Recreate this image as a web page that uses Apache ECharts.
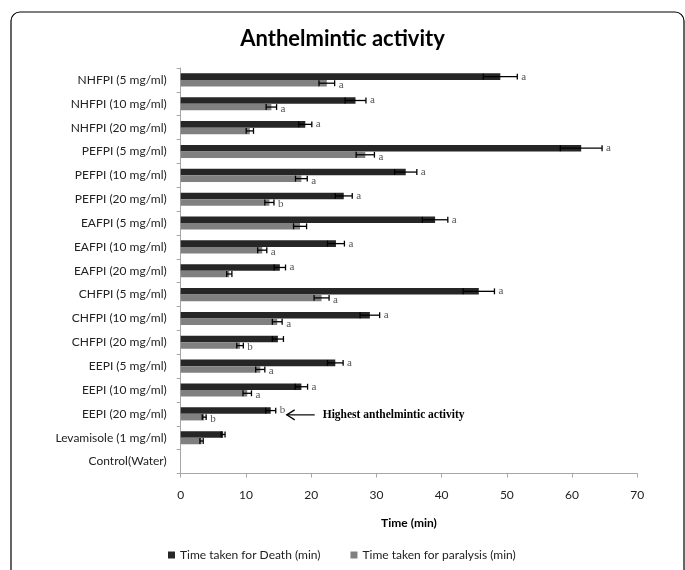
<!DOCTYPE html>
<html>
<head>
<meta charset="utf-8">
<script src="https://cdn.jsdelivr.net/npm/echarts@6/dist/echarts.min.js"></script>
<style>html,body{margin:0;padding:0;background:#fff;}#c{width:685px;height:570px;}</style>
</head>
<body>
<div id="c"></div>
<script>
const categories = ['NHFPI (5 mg/ml)','NHFPI (10 mg/ml)','NHFPI (20 mg/ml)','PEFPI (5 mg/ml)','PEFPI (10 mg/ml)','PEFPI (20 mg/ml)','EAFPI (5 mg/ml)','EAFPI (10 mg/ml)','EAFPI (20 mg/ml)','CHFPI (5 mg/ml)','CHFPI (10 mg/ml)','CHFPI (20 mg/ml)','EEPI (5 mg/ml)','EEPI (10 mg/ml)','EEPI (20 mg/ml)','Levamisole (1 mg/ml)','Control(Water)'];
const deathTime = [49.0, 26.8, 19.1, 61.4, 34.5, 25.0, 39.0, 23.8, 15.2, 45.7, 29.0, 14.9, 23.7, 18.5, 13.8, 6.5, 0];
const deathErr = [2.6, 1.6, 1.0, 3.2, 1.7, 1.3, 1.95, 1.3, 0.87, 2.4, 1.5, 0.85, 1.2, 0.95, 0.77, 0.3, 0];
const deathLetters = ['a','a','a','a','a','a','a','a','a','a','a','','a','a','b','',''];
const paralysisTime = [22.4, 13.9, 10.6, 28.3, 18.5, 13.6, 18.3, 12.5, 7.45, 21.6, 14.8, 9.1, 12.2, 10.2, 3.6, 3.2, 0];
const paralysisErr = [1.2, 0.8, 0.56, 1.4, 0.9, 0.7, 1.0, 0.7, 0.4, 1.15, 0.75, 0.5, 0.7, 0.65, 0.3, 0.25, 0];
const paralysisLetters = ['a','a','','a','a','b','','a','','a','a','b','a','a','b','',''];
const xTicks = [0, 10, 20, 30, 40, 50, 60, 70];
const annotationCategory = 'EEPI (20 mg/ml)';
const annotationValue = 16.25;
const annotationText = 'Highest anthelmintic activity';

const chart = echarts.init(document.getElementById('c'), null, {renderer: 'canvas'});
const FONT = 'Lato';

function errSeries(vals, errs, letters, sign, name) {
  return {
    type: 'custom',
    name: name + ' err',
    z: 5,
    silent: true,
    data: vals.map((v, i) => [v, i, errs[i], letters[i]]),
    renderItem: function (params, api) {
      const v = api.value(0), c = api.value(1), e = api.value(2);
      const letter = letters[params.dataIndex];
      const p = api.coord([v, c]);
      const band = api.size([0, 1])[1];
      const w = band * 0.55 / 2;
      const yc = p[1] + sign * w / 2;
      const children = [];
      if (e > 0) {
        const x1 = api.coord([v - e, c])[0];
        const x2 = api.coord([v + e, c])[0];
        const ch = w * 0.45;
        children.push({type: 'line', shape: {x1: x1, y1: yc, x2: x2, y2: yc}, style: {stroke: '#000', lineWidth: 1.3}});
        children.push({type: 'line', shape: {x1: x1, y1: yc - ch, x2: x1, y2: yc + ch}, style: {stroke: '#000', lineWidth: 1.3}});
        children.push({type: 'line', shape: {x1: x2, y1: yc - ch, x2: x2, y2: yc + ch}, style: {stroke: '#000', lineWidth: 1.3}});
        if (letter) {
          children.push({type: 'text', style: {text: letter, x: x2 + 4, y: yc + (sign > 0 ? 2 : 0), verticalAlign: 'middle', align: 'left', font: '11px "Liberation Serif"', fill: '#555'}});
        }
      }
      return {type: 'group', children: children};
    }
  };
}

const option = {
  backgroundColor: '#fff',
  animation: false,
  title: {
    text: 'Anthelmintic activity',
    left: 'center',
    top: 23,
    textStyle: {fontFamily: FONT, fontWeight: 'bold', fontSize: 22, color: '#000'}
  },
  legend: {
    bottom: 4,
    left: 163,
    itemWidth: 7,
    itemHeight: 7,
    itemGap: 30,
    icon: 'rect',
    textStyle: {fontFamily: FONT, fontSize: 12, color: '#222'},
    data: ['Time taken for Death (min)', 'Time taken for paralysis (min)']
  },
  grid: {left: 180.7, right: 47.7, top: 68, bottom: 96.5, containLabel: false},
  xAxis: {
    type: 'value', min: xTicks[0], max: xTicks[xTicks.length - 1], interval: 10,
    name: 'Time (min)', nameLocation: 'middle', nameGap: 44,
    nameTextStyle: {fontFamily: FONT, fontWeight: 'bold', fontSize: 12, color: '#000'},
    axisLine: {show: true, lineStyle: {color: '#a6a6a6', width: 1}},
    axisTick: {show: true, length: 4, lineStyle: {color: '#a6a6a6'}},
    axisLabel: {fontFamily: FONT, fontSize: 12, color: '#222', margin: 16},
    splitLine: {show: false}
  },
  yAxis: {
    type: 'category', inverse: true, data: categories,
    axisLine: {show: true, lineStyle: {color: '#a6a6a6', width: 1}},
    axisTick: {show: true, length: 4, lineStyle: {color: '#a6a6a6'}},
    axisLabel: {fontFamily: FONT, fontSize: 12, color: '#222', margin: 14}
  },
  graphic: [{
    type: 'rect', silent: true,
    shape: {x: 11, y: 12, width: 673, height: 620, r: 9},
    style: {fill: 'none', stroke: '#000', lineWidth: 1.2}
  }],
  series: [
    {
      name: 'Time taken for Death (min)', type: 'bar', data: deathTime,
      barGap: '0%', barCategoryGap: '45%',
      itemStyle: {color: '#262626'}
    },
    {
      name: 'Time taken for paralysis (min)', type: 'bar', data: paralysisTime,
      barGap: '0%', barCategoryGap: '45%',
      itemStyle: {color: '#808080'}
    },
    errSeries(deathTime, deathErr, deathLetters, -1, 'death'),
    errSeries(paralysisTime, paralysisErr, paralysisLetters, 1, 'paralysis'),
    {
      type: 'custom', name: 'annotation', silent: true, z: 6,
      data: [[annotationValue, categories.indexOf(annotationCategory)]],
      renderItem: function (params, api) {
        const p = api.coord([api.value(0), api.value(1)]);
        const y = p[1] + 1;
        const x0 = p[0];
        return {type: 'group', children: [
          {type: 'line', shape: {x1: x0, y1: y, x2: x0 + 28, y2: y}, style: {stroke: '#000', lineWidth: 1.2}},
          {type: 'polyline', shape: {points: [[x0 + 8, y - 5], [x0, y], [x0 + 8, y + 5]]}, style: {stroke: '#000', lineWidth: 1.2, fill: 'none'}},
          {type: 'text', style: {text: annotationText, x: x0 + 36, y: y, verticalAlign: 'middle', align: 'left', font: 'bold 11.5px "Liberation Serif"', fill: '#000'}}
        ]};
      }
    }
  ]
};
chart.setOption(option);
</script>
</body>
</html>
